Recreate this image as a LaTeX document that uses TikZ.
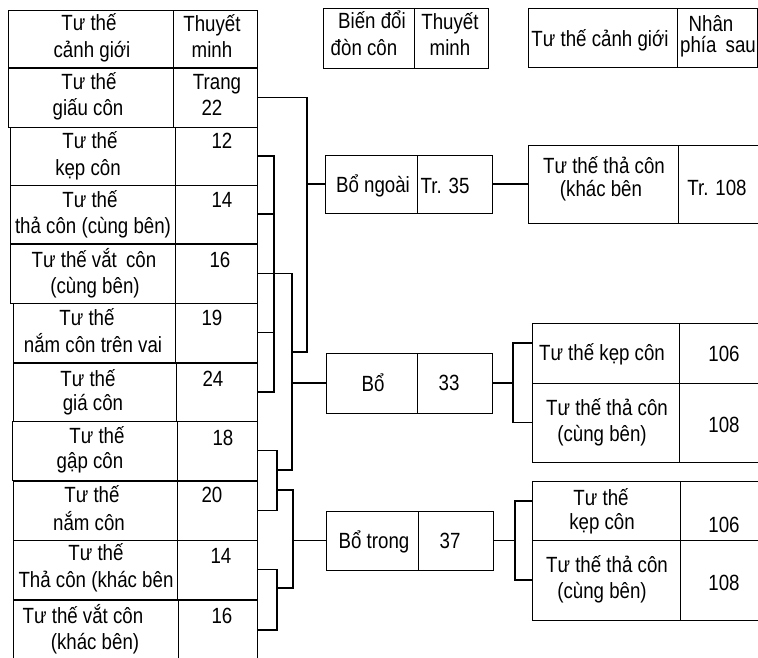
\documentclass[tikz,border=0pt]{standalone}
\usepackage{fontspec}
\setmainfont{Liberation Sans}[FakeStretch=0.85]
\usetikzlibrary{fit}
\begin{document}
\begin{tikzpicture}[x=1pt,y=-1pt,
  cell/.style={draw=black, line width=1pt, inner sep=0pt},
  txt/.style={anchor=base, inner sep=0pt, font=\fontsize{22}{25}\selectfont},
  conn/.style={draw=black, line width=1.2pt}]
\useasboundingbox (0,0) rectangle (758,657);
\clip (0,0) rectangle (758,657);
% ---------- left table ----------
\node[cell, fit={(8,10) (173,67)}] (h1) {};
\node[cell, fit={(173,10) (257,67)}] (h2) {};
\node[txt] (h1a) at (89,30) {Tư thế};
\node[txt] (h1b) at (92,57) {cảnh giới};
\node[txt] (h2a) at (212,31) {Thuyết};
\node[txt] (h2b) at (212,57) {minh};
% row 1
\node[cell, fit={(8,68) (173,127)}] (c1) {};
\node[cell, fit={(173,68) (257,127)}] (n1) {};
\node[txt] (c1a) at (89,89) {Tư thế};
\node[txt] (c1b) at (88,115) {giấu côn};
\node[txt] (n1a) at (217,89) {Trang};
\node[txt] (n1b) at (212,115) {22};
% row 2
\node[cell, fit={(10,127) (175,185)}] (c2) {};
\node[cell, fit={(175,127) (257,185)}] (n2) {};
\node[txt] (c2a) at (90,148) {Tư thế};
\node[txt] (c2b) at (88,175) {kẹp côn};
\node[txt] (n2a) at (222,148) {12};
% row 3
\node[cell, fit={(10,185) (175,243)}] (c3) {};
\node[cell, fit={(175,185) (257,243)}] (n3) {};
\node[txt] (c3a) at (90,207) {Tư thế};
\node[txt] (c3b) at (93,233) {thả côn (cùng bên)};
\node[txt] (n3a) at (222,207) {14};
% row 4
\node[cell, fit={(10,244) (175,303)}] (c4) {};
\node[cell, fit={(175,244) (257,303)}] (n4) {};
\node[txt] (c4a) at (94,267) {Tư thế vắt\hspace{4pt} côn};
\node[txt] (c4b) at (95,293) {(cùng bên)};
\node[txt] (n4a) at (220,267) {16};
% row 5
\node[cell, fit={(13,303) (175,362)}] (c5) {};
\node[cell, fit={(175,303) (257,362)}] (n5) {};
\node[txt] (c5a) at (87,325) {Tư thế};
\node[txt] (c5b) at (93,352) {nắm côn trên vai};
\node[txt] (n5a) at (212,325) {19};
% row 6
\node[cell, fit={(13,363) (176,421)}] (c6) {};
\node[cell, fit={(176,363) (257,421)}] (n6) {};
\node[txt] (c6a) at (88,386) {Tư thế};
\node[txt] (c6b) at (93,410) {giá côn};
\node[txt] (n6a) at (213,386) {24};
% row 7
\node[cell, fit={(12,421) (177,480)}] (c7) {};
\node[cell, fit={(177,421) (257,480)}] (n7) {};
\node[txt] (c7a) at (97,443) {Tư thế};
\node[txt] (c7b) at (90,468) {gập côn};
\node[txt] (n7a) at (223,445) {18};
% row 8
\node[cell, fit={(13,481) (177,540)}] (c8) {};
\node[cell, fit={(177,481) (257,540)}] (n8) {};
\node[txt] (c8a) at (92,502) {Tư thế};
\node[txt] (c8b) at (89,530) {nắm côn};
\node[txt] (n8a) at (212,502) {20};
% row 9
\node[cell, fit={(13,540) (177,599)}] (c9) {};
\node[cell, fit={(177,540) (257,599)}] (n9) {};
\node[txt] (c9a) at (96,560) {Tư thế};
\node[txt] (c9b) at (96,587) {Thả côn (khác bên};
\node[txt] (n9a) at (221,563) {14};
% row 10
\node[cell, fit={(13,600) (178,660)}] (c10) {};
\node[cell, fit={(178,600) (257,660)}] (n10) {};
\node[txt] (c10a) at (83,623) {Tư thế vắt côn};
\node[txt] (c10b) at (95,649) {(khác bên)};
\node[txt] (n10a) at (222,623) {16};
% ---------- middle ----------
\node[cell, fit={(323,8) (414,68)}] (mh1) {};
\node[cell, fit={(414,8) (488,68)}] (mh2) {};
\node[txt] (mh1a) at (372,28) {Biến đổi};
\node[txt] (mh1b) at (364,55) {đòn côn};
\node[txt] (mh2a) at (450,29) {Thuyết};
\node[txt] (mh2b) at (450,55) {minh};
\node[cell, fit={(325,155) (417,213)}] (bn) {};
\node[cell, fit={(417,155) (492,213)}] (bnv) {};
\node[txt] (bna) at (373,192) {Bổ ngoài};
\node[txt] (bnva) at (445,193) {Tr. 35};
\node[cell, fit={(326,353) (417,413)}] (bo) {};
\node[cell, fit={(417,353) (492,413)}] (bov) {};
\node[txt] (boa) at (373,391) {Bổ};
\node[txt] (bova) at (449,390) {33};
\node[cell, fit={(326,511) (418,570)}] (bt) {};
\node[cell, fit={(418,511) (493,570)}] (btv) {};
\node[txt] (bta) at (374,548) {Bổ trong};
\node[txt] (btva) at (450,548) {37};
% ---------- right ----------
\node[cell, fit={(528,8) (677,67)}] (rh1) {};
\node[cell, fit={(677,8) (757,67)}] (rh2) {};
\node[txt] (rh1a) at (600,46) {Tư thế cảnh giới};
\node[txt] (rh2a) at (711,31) {Nhân};
\node[txt] (rh2b) at (718,52) {phía\hspace{4pt} sau};
\node[cell, fit={(528,145) (678,223)}] (rb1) {};
\node[cell, fit={(678,145) (764,223)}] (rb1v) {};
\node[txt] (rb1a) at (604,173) {Tư thế thả côn};
\node[txt] (rb1b) at (601,196) {(khác bên};
\node[txt] (rb1c) at (717,195) {Tr. 108};
\node[cell, fit={(532,323) (679,383)}] (rb2) {};
\node[cell, fit={(679,323) (764,383)}] (rb2v) {};
\node[txt] (rb2a) at (602,360) {Tư thế kẹp côn};
\node[txt] (rb2c) at (724,361) {106};
\node[cell, fit={(532,383) (679,462)}] (rb3) {};
\node[cell, fit={(679,383) (764,462)}] (rb3v) {};
\node[txt] (rb3a) at (607,415) {Tư thế thả côn};
\node[txt] (rb3b) at (602,441) {(cùng bên)};
\node[txt] (rb3c) at (724,432) {108};
\node[cell, fit={(532,481) (680,540)}] (rb4) {};
\node[cell, fit={(680,481) (764,540)}] (rb4v) {};
\node[txt] (rb4a) at (601,505) {Tư thế};
\node[txt] (rb4b) at (602,529) {kẹp côn};
\node[txt] (rb4c) at (724,532) {106};
\node[cell, fit={(532,540) (680,620)}] (rb5) {};
\node[cell, fit={(680,540) (764,620)}] (rb5v) {};
\node[txt] (rb5a) at (607,572) {Tư thế thả côn};
\node[txt] (rb5b) at (602,598) {(cùng bên)};
\node[txt] (rb5c) at (724,590) {108};
% ---------- left connectors ----------
\draw[conn] (n1.east) -- (307,97.5) -- (307,352) -- (292,352);
\draw[conn] (307,184) -- (bn.west);
\draw[conn] (n2.east) -| (274,392) -- (n6.east);
\draw[conn] (n3.east) -- (274,214);
\draw[conn] (n5.east) -- (274,332.5);
\draw[conn] (n4.east) -| (292,470) -- (277,470);
\draw[conn] (292,383) -- (bo.west);
\draw[conn] (n7.east) -| (277,510.5) -- (n8.east);
\draw[conn] (277,490) -| (293,588) -- (277,588);
\draw[conn] (293,540.5) -- (bt.west);
\draw[conn] (n9.east) -| (277,630) -- (n10.east);
% ---------- right connectors ----------
\draw[conn] (bnv.east) -- (rb1.west);
\draw[conn] (bov.east) -- (513,383);
\coordinate (r2in) at (532,343);
\draw[conn] (r2in) -| (513,422.5) -- (rb3.west);
\draw[conn] (btv.east) -- (515,540.5);
\coordinate (r4in) at (532,501);
\draw[conn] (r4in) -| (515,580) -- (rb5.west);
\end{tikzpicture}
\end{document}
